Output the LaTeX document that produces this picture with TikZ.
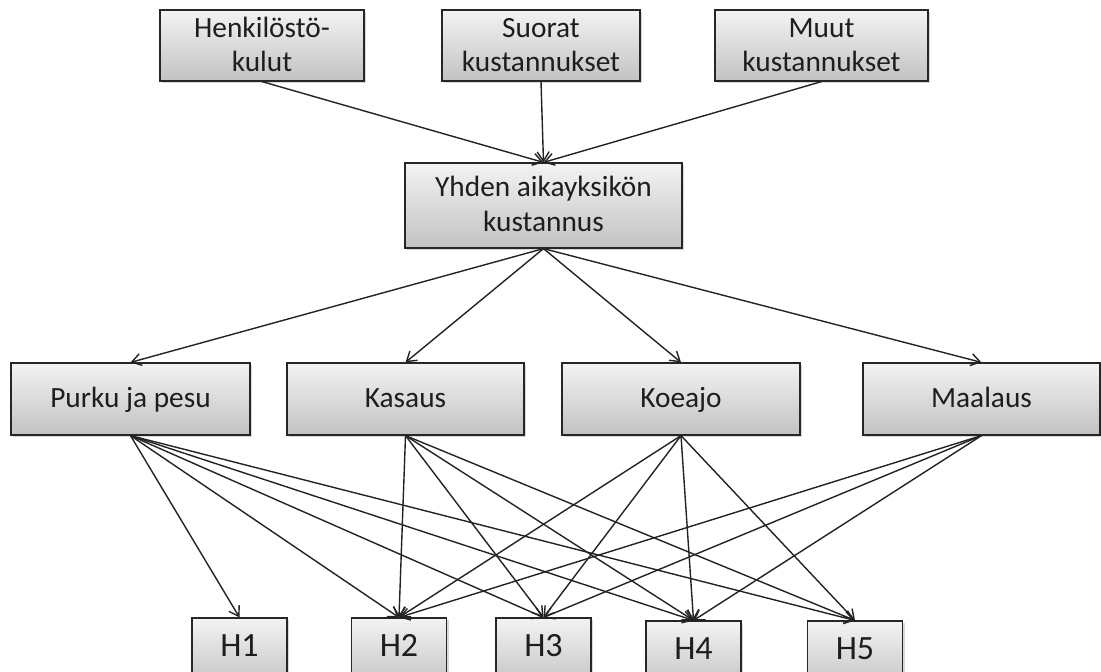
\documentclass[tikz,border=0pt]{standalone}
\usepackage{fontspec}
\setmainfont{Carlito}
\usetikzlibrary{arrows.meta,shadows}
\definecolor{boxtop}{RGB}{243,243,243}
\definecolor{boxbot}{RGB}{194,194,194}
\definecolor{edgecol}{RGB}{38,38,38}
\definecolor{linecol}{RGB}{35,35,35}
\definecolor{txtcol}{RGB}{30,30,30}
\begin{document}
\begin{tikzpicture}[x=0.75pt,y=-0.75pt,
  box/.style={draw=edgecol, line width=0.9pt, top color=boxtop, bottom color=boxbot,
    drop shadow={shadow xshift=1.6pt, shadow yshift=-1.6pt, opacity=0.3},
    align=center, inner sep=0pt, text=txtcol, text height=17pt, text depth=4pt,
    font=\fontsize{22}{25.5}\selectfont},
  twoline/.style={box, text height=42.5pt},
  hbox/.style={box, font=\fontsize{25.5}{30}\selectfont, minimum width=95*0.75pt,
    text height=29pt, text depth=23pt, inner ysep=0pt},
  link/.style={draw=linecol, line width=1.05pt, -{Straight Barb[length=7pt,width=9pt]}}]
\clip (0,0) rectangle (1101,672);
\fill[white] (0,0) rectangle (1101,672);

% cost sources
\node[twoline, minimum width=204*0.75pt, minimum height=71*0.75pt] (hk) at (262,45.5) {Henkilöstö-\\kulut};
\node[twoline, minimum width=198*0.75pt, minimum height=71*0.75pt] (sk) at (541,45.5) {Suorat\\kustannukset};
\node[twoline, minimum width=213*0.75pt, minimum height=71*0.75pt] (mk) at (821.5,45.5) {Muut\\kustannukset};

% unit cost
\node[twoline, text height=43.5pt, minimum width=277*0.75pt, minimum height=85*0.75pt] (yk) at (543.5,205.5) {Yhden aikayksikön\\[1pt]kustannus};

% work phases
\node[box, minimum width=239*0.75pt, minimum height=72*0.75pt] (pp) at (130.5,399) {Purku ja pesu};
\node[box, minimum width=237*0.75pt, minimum height=72*0.75pt] (ka) at (405.5,399) {Kasaus};
\node[box, minimum width=238*0.75pt, minimum height=72*0.75pt] (ko) at (681,399) {Koeajo};
\node[box, minimum width=237*0.75pt, minimum height=72*0.75pt] (ma) at (981.5,399) {Maalaus};

% products
\node[hbox] (h1) at (239.5,652.7) {H1};
\node[hbox] (h2) at (399,652.7) {H2};
\node[hbox] (h3) at (543.5,652.7) {H3};
\node[hbox] (h4) at (693.5,655.7) {H4};
\node[hbox] (h5) at (855,655.7) {H5};

% connectors
\foreach \s in {hk,sk,mk} \draw[link] (\s.south) -- (yk.north);
\foreach \t in {pp,ka,ko,ma} \draw[link] (yk.south) -- (\t.north);
\foreach \t in {h1,h2,h3,h4,h5} \draw[link] (pp.south) -- (\t.north);
\foreach \t in {h2,h3,h4,h5} \draw[link] (ka.south) -- (\t.north);
\foreach \t in {h2,h3,h4,h5} \draw[link] (ko.south) -- (\t.north);
\foreach \t in {h2,h3,h4} \draw[link] (ma.south) -- (\t.north);
\end{tikzpicture}
\end{document}
